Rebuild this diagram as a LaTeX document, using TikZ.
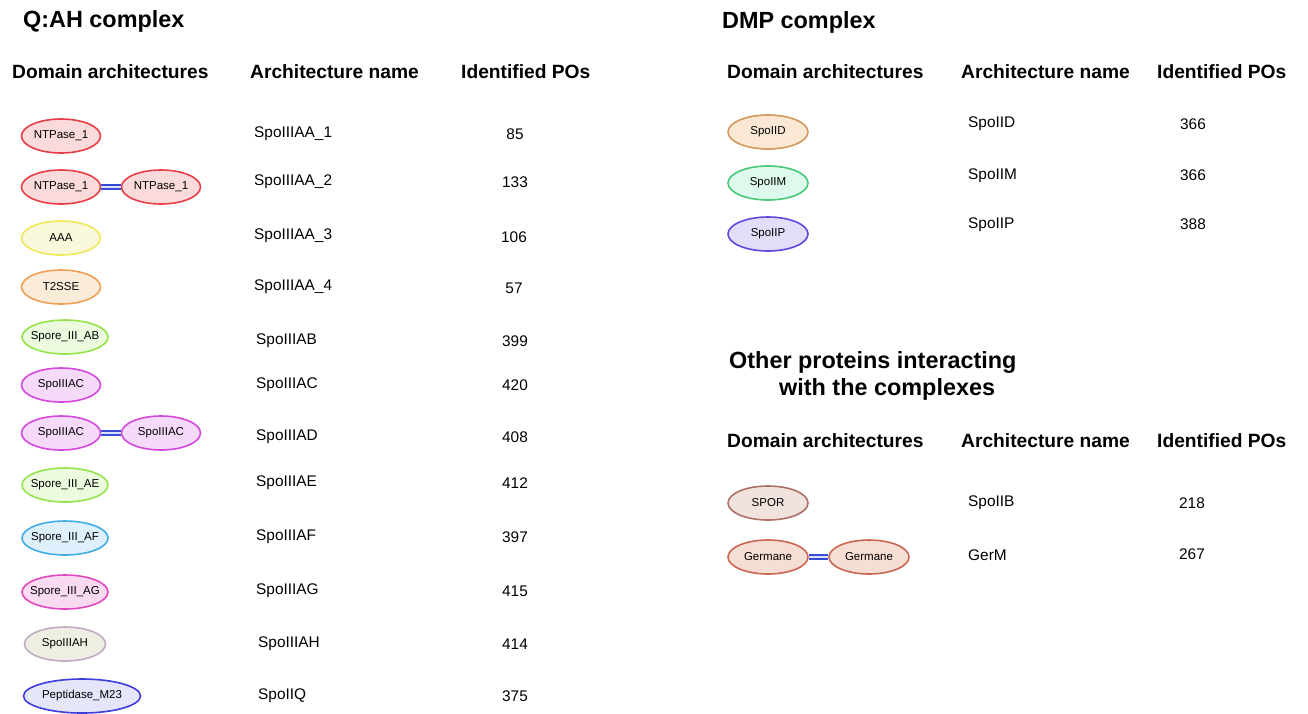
\documentclass[tikz,border=0pt]{standalone}
\usepackage{fontspec}
\setmainfont{Liberation Sans}
\usetikzlibrary{shapes.geometric}
\definecolor{ntpB}{RGB}{232,62,72}\definecolor{ntpF}{RGB}{250,218,218}
\definecolor{aaaB}{RGB}{238,232,90}\definecolor{aaaF}{RGB}{250,248,218}
\definecolor{t2B}{RGB}{240,160,85}\definecolor{t2F}{RGB}{251,236,218}
\definecolor{abB}{RGB}{150,228,75}\definecolor{abF}{RGB}{236,250,222}
\definecolor{acB}{RGB}{212,72,222}\definecolor{acF}{RGB}{246,218,250}
\definecolor{afB}{RGB}{65,172,232}\definecolor{afF}{RGB}{222,240,252}
\definecolor{agB}{RGB}{228,72,190}\definecolor{agF}{RGB}{250,218,240}
\definecolor{ahB}{RGB}{192,172,195}\definecolor{ahF}{RGB}{238,238,226}
\definecolor{pmB}{RGB}{62,62,222}\definecolor{pmF}{RGB}{230,230,250}
\definecolor{idB}{RGB}{212,152,95}\definecolor{idF}{RGB}{251,232,212}
\definecolor{imB}{RGB}{72,200,120}\definecolor{imF}{RGB}{222,250,236}
\definecolor{ipB}{RGB}{92,72,222}\definecolor{ipF}{RGB}{226,222,250}
\definecolor{spB}{RGB}{172,112,102}\definecolor{spF}{RGB}{242,226,222}
\definecolor{geB}{RGB}{202,102,82}\definecolor{geF}{RGB}{246,222,212}
\definecolor{lnB}{RGB}{55,75,215}\definecolor{lnF}{RGB}{215,225,250}
\tikzset{
  dom/.style n args={3}{ellipse, draw=#1, fill=#2, line width=1.6pt, inner sep=0pt,
     minimum width=79pt, minimum height=34pt,
     label={[inner sep=0pt, font=\fontsize{11.5}{13}\selectfont]center:#3}},
  bigtitle/.style={anchor=west, inner sep=0pt, font=\fontsize{23.4}{27}\selectfont\bfseries},
  colhead/.style={anchor=west, inner sep=0pt, font=\fontsize{19.2}{22}\selectfont\bfseries},
  archname/.style={anchor=west, inner sep=0pt, font=\fontsize{15.4}{18}\selectfont},
  numtxt/.style={anchor=center, inner sep=0pt, font=\fontsize{15.4}{18}\selectfont},
  link/.style={draw=lnB, line width=1.5pt, double=lnF, double distance=2.6pt}
}
\begin{document}
\begin{tikzpicture}[x=1pt,y=-1pt]
\useasboundingbox (0,0) rectangle (1308,713);
% ---------- Left block ----------
\node[bigtitle] (tQ) at (23,21) {Q:AH complex};
\node[colhead] (hL1) at (12,72) {Domain architectures};
\node[colhead] (hL2) at (250,72) {Architecture name};
\node[colhead] (hL3) at (461,72) {Identified POs};

\node[dom={ntpB}{ntpF}{NTPase\_1}] (d1) at (61,136) {};
\node[archname] (a1) at (254,134) {SpoIIIAA\_1};
\node[numtxt] (n1) at (515,134) {85};

\node[dom={ntpB}{ntpF}{NTPase\_1}] (d2a) at (61,187) {};
\node[dom={ntpB}{ntpF}{NTPase\_1}] (d2b) at (161,187) {};
\draw[link] (d2a.east) -- (d2b.west);
\node[archname] (a2) at (254,182) {SpoIIIAA\_2};
\node[numtxt] (n2) at (515,182) {133};

\node[dom={aaaB}{aaaF}{AAA}] (d3) at (61,238) {};
\node[archname] (a3) at (254,236) {SpoIIIAA\_3};
\node[numtxt] (n3) at (514,237) {106};

\node[dom={t2B}{t2F}{T2SSE}] (d4) at (61,287) {};
\node[archname] (a4) at (254,287) {SpoIIIAA\_4};
\node[numtxt] (n4) at (514,288) {57};

\node[dom={abB}{abF}{Spore\_III\_AB}, minimum width=86pt] (d5) at (65,337) {};
\node[archname] (a5) at (256,341) {SpoIIIAB};
\node[numtxt] (n5) at (515,341) {399};

\node[dom={acB}{acF}{SpoIIIAC}] (d6) at (61,385) {};
\node[archname] (a6) at (256,385) {SpoIIIAC};
\node[numtxt] (n6) at (515,385) {420};

\node[dom={acB}{acF}{SpoIIIAC}] (d7a) at (61,433) {};
\node[dom={acB}{acF}{SpoIIIAC}] (d7b) at (161,433) {};
\draw[link] (d7a.east) -- (d7b.west);
\node[archname] (a7) at (256,437) {SpoIIIAD};
\node[numtxt] (n7) at (515,437) {408};

\node[dom={abB}{abF}{Spore\_III\_AE}, minimum width=86pt] (d8) at (65,485) {};
\node[archname] (a8) at (256,483) {SpoIIIAE};
\node[numtxt] (n8) at (515,483) {412};

\node[dom={afB}{afF}{Spore\_III\_AF}, minimum width=86pt] (d9) at (65,538) {};
\node[archname] (a9) at (256,537) {SpoIIIAF};
\node[numtxt] (n9) at (515,537) {397};

\node[dom={agB}{agF}{Spore\_III\_AG}, minimum width=86pt] (d10) at (65,592) {};
\node[archname] (a10) at (256,591) {SpoIIIAG};
\node[numtxt] (n10) at (515,591) {415};

\node[dom={ahB}{ahF}{SpoIIIAH}, minimum width=81pt] (d11) at (65,644) {};
\node[archname] (a11) at (258,644) {SpoIIIAH};
\node[numtxt] (n11) at (515,644) {414};

\node[dom={pmB}{pmF}{Peptidase\_M23}, minimum width=117pt] (d12) at (82,696) {};
\node[archname] (a12) at (258,696) {SpoIIQ};
\node[numtxt] (n12) at (515,696) {375};

% ---------- Right block: DMP ----------
\node[bigtitle] (tD) at (722,22) {DMP complex};
\node[colhead] (hR1) at (727,72) {Domain architectures};
\node[colhead] (hR2) at (961,72) {Architecture name};
\node[colhead] (hR3) at (1157,72) {Identified POs};

\node[dom={idB}{idF}{SpoIID}, minimum width=80pt] (r1) at (768,132) {};
\node[archname] (ra1) at (968,124) {SpoIID};
\node[numtxt] (rn1) at (1193,124) {366};

\node[dom={imB}{imF}{SpoIIM}, minimum width=80pt] (r2) at (768,183) {};
\node[archname] (ra2) at (968,176) {SpoIIM};
\node[numtxt] (rn2) at (1193,175) {366};

\node[dom={ipB}{ipF}{SpoIIP}, minimum width=80pt] (r3) at (768,234) {};
\node[archname] (ra3) at (968,225) {SpoIIP};
\node[numtxt] (rn3) at (1193,224) {388};

% ---------- Right block: other proteins ----------
\node[bigtitle] (tO1) at (729,362) {Other proteins interacting};
\node[bigtitle] (tO2) at (779,389) {with the complexes};
\node[colhead] (hO1) at (727,441) {Domain architectures};
\node[colhead] (hO2) at (961,441) {Architecture name};
\node[colhead] (hO3) at (1157,441) {Identified POs};

\node[dom={spB}{spF}{SPOR}, minimum width=80pt] (o1) at (768,503) {};
\node[archname] (oa1) at (968,503) {SpoIIB};
\node[numtxt] (on1) at (1192,503) {218};

\node[dom={geB}{geF}{Germane}, minimum width=80pt] (o2a) at (768,557) {};
\node[dom={geB}{geF}{Germane}, minimum width=80pt] (o2b) at (869,557) {};
\draw[link] (o2a.east) -- (o2b.west);
\node[archname] (oa2) at (968,555) {GerM};
\node[numtxt] (on2) at (1192,554) {267};
\end{tikzpicture}
\end{document}
